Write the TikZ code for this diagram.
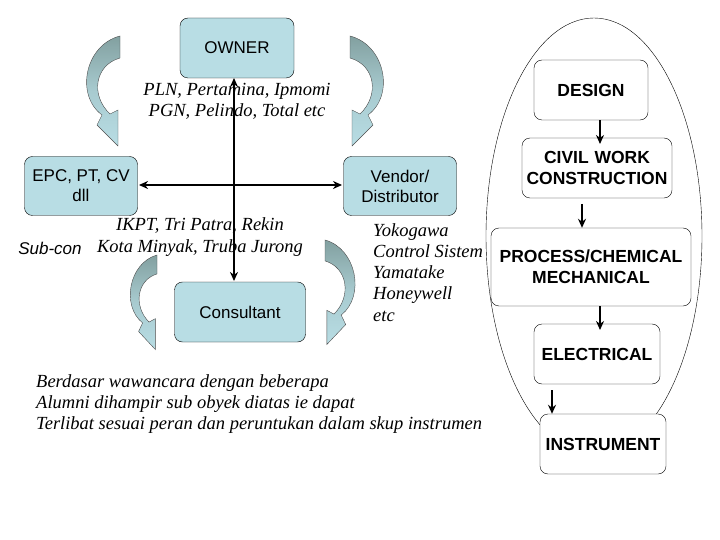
\documentclass[tikz,border=0pt]{standalone}
\usepackage{fontspec}
\setmainfont{Liberation Sans}
\newfontfamily\itf{Liberation Serif}
\usetikzlibrary{arrows.meta}
\definecolor{boxblue}{RGB}{184,221,228}
\definecolor{darkg}{RGB}{130,160,160}
\begin{document}
\begin{tikzpicture}[x=1pt,y=-1pt,
  bb/.style={draw,rounded corners=8pt,fill=boxblue,minimum width=#1,font=\fontsize{17}{20}\selectfont,align=center},
  wb/.style={draw,rounded corners=8pt,fill=white,font=\fontsize{17.5}{21}\selectfont\bfseries,align=center},
  it/.style={font=\itf\itshape\fontsize{18.5}{21.3}\selectfont,align=left,inner sep=0pt},
  ar/.style={-{Stealth[length=9pt,width=8pt]},line width=1.8pt},
  br/.style={{Stealth[length=9pt,width=8pt]}-{Stealth[length=9pt,width=8pt]},line width=2pt},
  curv/.style={draw=black!70,line width=0.4pt,top color=darkg,bottom color=boxblue,middle color=boxblue!70!darkg}]
\useasboundingbox (0,0) rectangle (720,540);
\draw (594,236) ellipse [x radius=108, y radius=218];
% curved arrows
\def\carrow{(0,0) .. controls (-35,9) and (-45,59) .. (-18,79) -- (-23,89) -- (-2,110) -- (-2,74) -- (-10,78) .. controls (-30,59) and (-25,29) .. (0,22) -- cycle}
\path[curv,shift={(120,36)}] \carrow;
\path[curv,shift={(350,36)},xscale=-1] \carrow;
\path[curv,shift={(157,255)},xscale=0.8,yscale=0.86] \carrow;
\path[curv,shift={(325,240)},xscale=-0.9,yscale=0.95] \carrow;
% boxes
\node[bb=114pt,minimum height=60pt] (own) at (237,48) {OWNER};
\node[bb=113pt,minimum height=59pt] (epc) at (81,186) {EPC, PT, CV\\dll};
\node[bb=113pt,minimum height=59pt] (ven) at (400,186) {Vendor/\\Distributor};
\node[bb=131pt,minimum height=60pt] (con) at (240,312) {Consultant};
\draw[br] (234,78) -- (234,281);
\draw[br] (139,185) -- (342,185);
% texts
\node[it,align=center] (t1) at (237,101) {PLN, Pertamina, Ipmomi\\PGN, Pelindo, Total etc};
\node[it,align=center] (t2) at (200,237) {IKPT, Tri Patra, Rekin\\Kota Minyak, Truba Jurong};
\node[font=\itshape\fontsize{17}{20}\selectfont] (sc) at (50,248) {Sub-con};
\node[it,anchor=north west] (vl) at (373,223) {Yokogawa\\Control Sistem\\Yamatake\\Honeywell\\etc};
\node[it,anchor=north west] (bt) at (36,374) {Berdasar wawancara dengan beberapa\\Alumni dihampir sub obyek diatas ie dapat\\Terlibat sesuai peran dan peruntukan dalam skup instrumen};
% right column
\node[wb,minimum width=114pt,minimum height=60pt] (des) at (591,90) {DESIGN};
\node[wb,minimum width=114pt,minimum height=60pt,text width=150pt,inner xsep=0pt] (civ) at (597,168) {CIVIL WORK\\CONSTRUCTION};
\node[wb,minimum width=150pt,minimum height=78pt,text width=200pt,inner xsep=0pt] (pro) at (591,267) {PROCESS/CHEMICAL\\MECHANICAL};
\node[wb,minimum width=126pt,minimum height=60pt] (ele) at (597,354) {ELECTRICAL};
\node[wb,minimum width=126pt,minimum height=60pt] (ins) at (603,444) {INSTRUMENT};
\draw[ar] (des.south -| 600,0) -- (600,144);
\draw[ar] (582,204) -- (pro.north -| 582,0);
\draw[ar] (pro.south -| 600,0) -- (600,330);
\draw[ar] (552,390) -- (ins.north -| 552,0);
\end{tikzpicture}
\end{document}
